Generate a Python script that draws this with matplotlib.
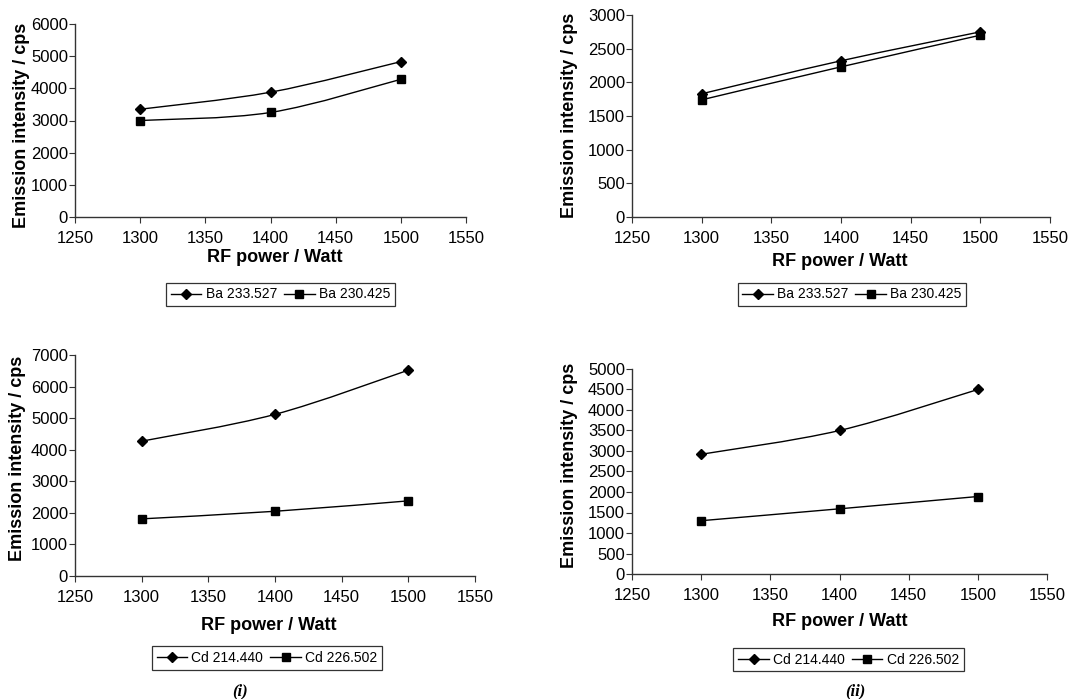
import matplotlib
matplotlib.use("Agg")
import matplotlib.pyplot as plt
from matplotlib.path import Path
from matplotlib.patches import PathPatch
from matplotlib.lines import Line2D

plt.rcParams["font.family"] = ["Liberation Sans", "DejaVu Sans"]

# RF power (Watt)
power = [1300, 1400, 1500]

# Emission intensities (cps)
ba_233_i = [3350, 3880, 4830]
ba_230_i = [3000, 3250, 4280]
ba_233_ii = [1830, 2320, 2750]
ba_230_ii = [1740, 2230, 2700]
cd_214_i = [4270, 5120, 6520]
cd_226_i = [1810, 2050, 2380]
cd_214_ii = [2920, 3500, 4500]
cd_226_ii = [1300, 1590, 1890]

W, H = 1090, 699
fig = plt.figure(figsize=(W / 100, H / 100), dpi=100)


def px_axes(left, top, right, bottom):
    return fig.add_axes([left / W, 1 - bottom / H, (right - left) / W, (bottom - top) / H])


def fx(x):
    return x / W


def fy(y):
    return 1 - y / H


def smooth_line(ax, x, y):
    # Excel-style smoothed line (Catmull-Rom as cubic Bezier)
    pts = list(zip(x, y))
    ext = [pts[0]] + pts + [pts[-1]]
    verts = [pts[0]]
    codes = [Path.MOVETO]
    for i in range(1, len(ext) - 2):
        p0, p1, p2, p3 = ext[i - 1], ext[i], ext[i + 1], ext[i + 2]
        c1 = (p1[0] + (p2[0] - p0[0]) / 6, p1[1] + (p2[1] - p0[1]) / 6)
        c2 = (p2[0] - (p3[0] - p1[0]) / 6, p2[1] - (p3[1] - p1[1]) / 6)
        verts += [c1, c2, p2]
        codes += [Path.CURVE4] * 3
    ax.add_patch(PathPatch(Path(verts, codes), fill=False, edgecolor="black", lw=1.0))


def panel(ax, s1, s2, ymax, ystep, names, leg_box, xlab_pos, ylab_pos):
    smooth_line(ax, power, s1)
    smooth_line(ax, power, s2)
    ax.plot(power, s1, ls="none", marker="D", ms=5.5, color="black")
    ax.plot(power, s2, ls="none", marker="s", ms=6, color="black")
    ax.set_xlim(1250, 1550)
    ax.set_ylim(0, ymax)
    ax.set_xticks(range(1250, 1551, 50))
    ax.set_yticks(range(0, ymax + 1, ystep))
    for side in ["top", "right"]:
        ax.spines[side].set_visible(False)
    for side in ["left", "bottom"]:
        ax.spines[side].set_color("#333333")
        ax.spines[side].set_linewidth(1.0)
    ax.tick_params(direction="out", length=4, labelsize=12, colors="#333333",
                   labelcolor="black")
    ax.tick_params(axis="x", pad=6)
    ax.tick_params(axis="y", pad=1)
    fig.text(fx(xlab_pos[0]), fy(xlab_pos[1]), "RF power / Watt", fontsize=13,
             fontweight="bold", ha="center", va="center")
    fig.text(fx(ylab_pos[0]), fy(ylab_pos[1]), "Emission intensity / cps", fontsize=13,
             fontweight="bold", ha="center", va="center", rotation=90)
    handles = [
        Line2D([], [], color="black", lw=1.0, marker="D", ms=5),
        Line2D([], [], color="black", lw=1.0, marker="s", ms=5.5),
    ]
    l, t, r, b = leg_box
    leg = fig.legend(handles, names, loc="center",
                     bbox_to_anchor=(fx((l + r) / 2), fy((t + b) / 2)),
                     ncol=2, fontsize=10, frameon=True, fancybox=False,
                     edgecolor="black", handlelength=2.2, handletextpad=0.3,
                     columnspacing=0.5, borderpad=0.35)
    leg.get_frame().set_linewidth(0.9)


ax1 = px_axes(75, 24, 466, 217)
panel(ax1, ba_233_i, ba_230_i, 6000, 1000, ["Ba 233.527", "Ba 230.425"],
      (168, 280, 393, 309), (275, 258), (22, 125))

ax2 = px_axes(632, 15, 1050, 217)
panel(ax2, ba_233_ii, ba_230_ii, 3000, 500, ["Ba 233.527", "Ba 230.425"],
      (724, 282, 980, 307), (840, 262), (570, 115))

ax3 = px_axes(75, 355, 475, 576)
panel(ax3, cd_214_i, cd_226_i, 7000, 1000, ["Cd 214.440", "Cd 226.502"],
      (144, 643, 390, 673), (269, 625), (18, 458))

ax4 = px_axes(632, 369, 1047, 574)
panel(ax4, cd_214_ii, cd_226_ii, 5000, 500, ["Cd 214.440", "Cd 226.502"],
      (720, 646, 977, 673), (840, 622), (570, 465))

fig.text(fx(240), fy(691), "(i)", fontsize=12, fontweight="bold", style="italic",
         family="Liberation Serif", ha="center", va="center")
fig.text(fx(855), fy(691), "(ii)", fontsize=12, fontweight="bold", style="italic",
         family="Liberation Serif", ha="center", va="center")

fig.savefig("out.png", dpi=100)
